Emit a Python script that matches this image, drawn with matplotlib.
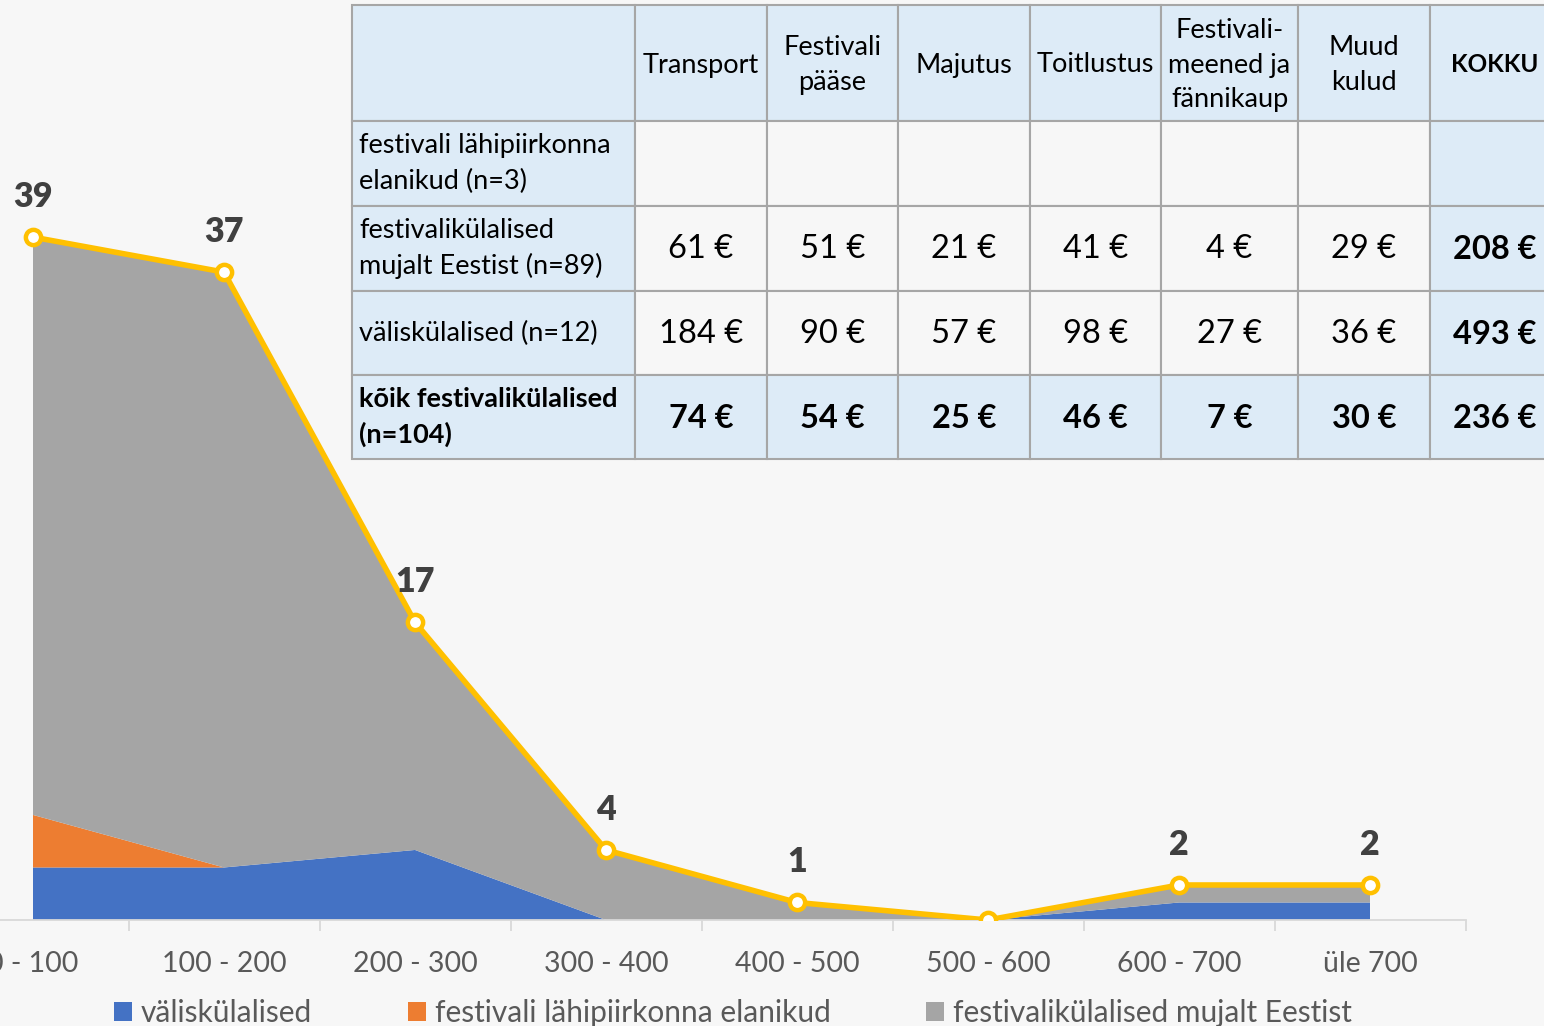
import matplotlib
matplotlib.use("Agg")
import matplotlib.pyplot as plt
from matplotlib.patches import Rectangle
import numpy as np

plt.rcParams['font.family'] = ['Lato', 'DejaVu Sans']

# --- chart data ---
categories = ["0 - 100", "100 - 200", "200 - 300", "300 - 400",
              "400 - 500", "500 - 600", "600 - 700", "üle 700"]
valiskulalised = [3, 3, 4, 0, 0, 0, 1, 1]
lahipiirkond = [3, 0, 0, 0, 0, 0, 0, 0]
mujalt_eestist = [33, 34, 13, 4, 1, 0, 1, 1]
kokku = [39, 37, 17, 4, 1, 0, 2, 2]
series_names = ["väliskülalised", "festivali lähipiirkonna elanikud",
                "festivalikülalised mujalt Eestist"]

# --- table data ---
col_headers = ["", "Transport", "Festivali\npääse", "Majutus", "Toitlustus",
               "Festivali-\nmeened ja\nfännikaup", "Muud\nkulud", "KOKKU"]
row_labels = ["festivali lähipiirkonna\nelanikud (n=3)",
              "festivalikülalised\nmujalt Eestist (n=89)",
              "väliskülalised (n=12)",
              "kõik festivalikülalised\n(n=104)"]
row_values = [
    ["", "", "", "", "", "", ""],
    ["61 €", "51 €", "21 €", "41 €", "4 €", "29 €", "208 €"],
    ["184 €", "90 €", "57 €", "98 €", "27 €", "36 €", "493 €"],
    ["74 €", "54 €", "25 €", "46 €", "7 €", "30 €", "236 €"],
]

BG = "#F7F7F7"
BLUE = "#4472C4"
ORANGE = "#ED7D31"
GRAY = "#A5A5A5"
YELLOW = "#FFC000"
CELL_BLUE = "#DDEBF7"

W, H = 1544, 1026
fig = plt.figure(figsize=(W / 100, H / 100), dpi=100, facecolor=BG)

# main chart axes (extends past the left edge like the original crop)
ax_left, ax_right, base_y = -62.5, 1465.5, 920
ymax = 45
ax_h = ymax * 17.51
ax = fig.add_axes([ax_left / W, (H - base_y) / H, (ax_right - ax_left) / W, ax_h / H])
ax.set_facecolor("none")

x = np.arange(len(categories))
ax.stackplot(x, valiskulalised, lahipiirkond, mujalt_eestist,
             colors=[BLUE, ORANGE, GRAY], labels=series_names, zorder=1)
ax.plot(x, kokku, color=YELLOW, lw=4, marker="o", ms=11,
        mfc="white", mec=YELLOW, mew=3.2, zorder=3, solid_joinstyle="round")

for xi, v in zip(x, kokku):
    if v == 0:
        continue
    ax.annotate(str(v), (xi, v), xytext=(0, 40), textcoords="offset pixels",
                ha="center", va="center", fontsize=24.5, fontweight="heavy",
                color="#404040", zorder=4)

ax.set_xlim(-0.5, len(categories) - 0.5)
ax.set_ylim(0, ymax)
ax.set_xticks(x)
ax.set_xticklabels(categories, fontsize=20.5, color="#595959")
ax.tick_params(axis="x", which="major", length=0, pad=22)
ax.set_xticks(np.arange(-0.5, len(categories)), minor=True)
ax.tick_params(axis="x", which="minor", length=8, width=1.3, color="#D9D9D9")
ax.set_yticks([])
for s in ["left", "right", "top"]:
    ax.spines[s].set_visible(False)
ax.spines["bottom"].set_color("#D9D9D9")
ax.spines["bottom"].set_linewidth(1.3)

leg = ax.legend(loc="center left",
                bbox_to_anchor=((114 - ax_left) / (ax_right - ax_left), (base_y - 1013) / ax_h),
                ncol=3, frameon=False, fontsize=21.5, handlelength=0.6, handleheight=0.6,
                handletextpad=0.3, columnspacing=3.2, borderaxespad=0, borderpad=0)
for t in leg.get_texts():
    t.set_color("#595959")

# --- table overlay drawn in pixel coordinates ---
tax = fig.add_axes([0, 0, 1, 1])
tax.set_xlim(0, W)
tax.set_ylim(H, 0)
tax.axis("off")

col_x = [352, 635, 767, 898, 1030, 1161, 1298, 1430, 1560]
row_y = [5, 121, 206, 291, 375, 459]
n_rows = len(row_y) - 1
n_cols = len(col_x) - 1
for r in range(n_rows):
    for c in range(n_cols):
        x0, x1 = col_x[c], col_x[c + 1]
        y0, y1 = row_y[r], row_y[r + 1]
        shaded = r == 0 or c == 0 or c == n_cols - 1 or r == n_rows - 1
        tax.add_patch(Rectangle((x0, y0), x1 - x0, y1 - y0,
                                facecolor=CELL_BLUE if shaded else BG,
                                edgecolor="#A6A6A6", lw=1.5, zorder=1))
        cx, cy = (x0 + x1) / 2, (y0 + y1) / 2
        if r == 0:
            txt = col_headers[c]
            bold = c == n_cols - 1
            tax.text(cx, cy + 2, txt, ha="center", va="center",
                     fontsize=17.5 if bold else 19.5,
                     fontweight="bold" if bold else "normal",
                     color="black", linespacing=1.5, zorder=2)
        elif c == 0:
            tax.text(x0 + 7, cy, row_labels[r - 1], ha="left", va="center",
                     fontsize=19.5, linespacing=1.5,
                     fontweight="bold" if r == n_rows - 1 else "normal",
                     color="black", zorder=2)
        else:
            val = row_values[r - 1][c - 1]
            bold = c == n_cols - 1 or r == n_rows - 1
            tax.text(cx, cy + 1, val, ha="center", va="center", fontsize=23.5,
                     fontweight="bold" if bold else "normal",
                     color="black", zorder=2)

fig.savefig("out.png", dpi=100, facecolor=BG)
